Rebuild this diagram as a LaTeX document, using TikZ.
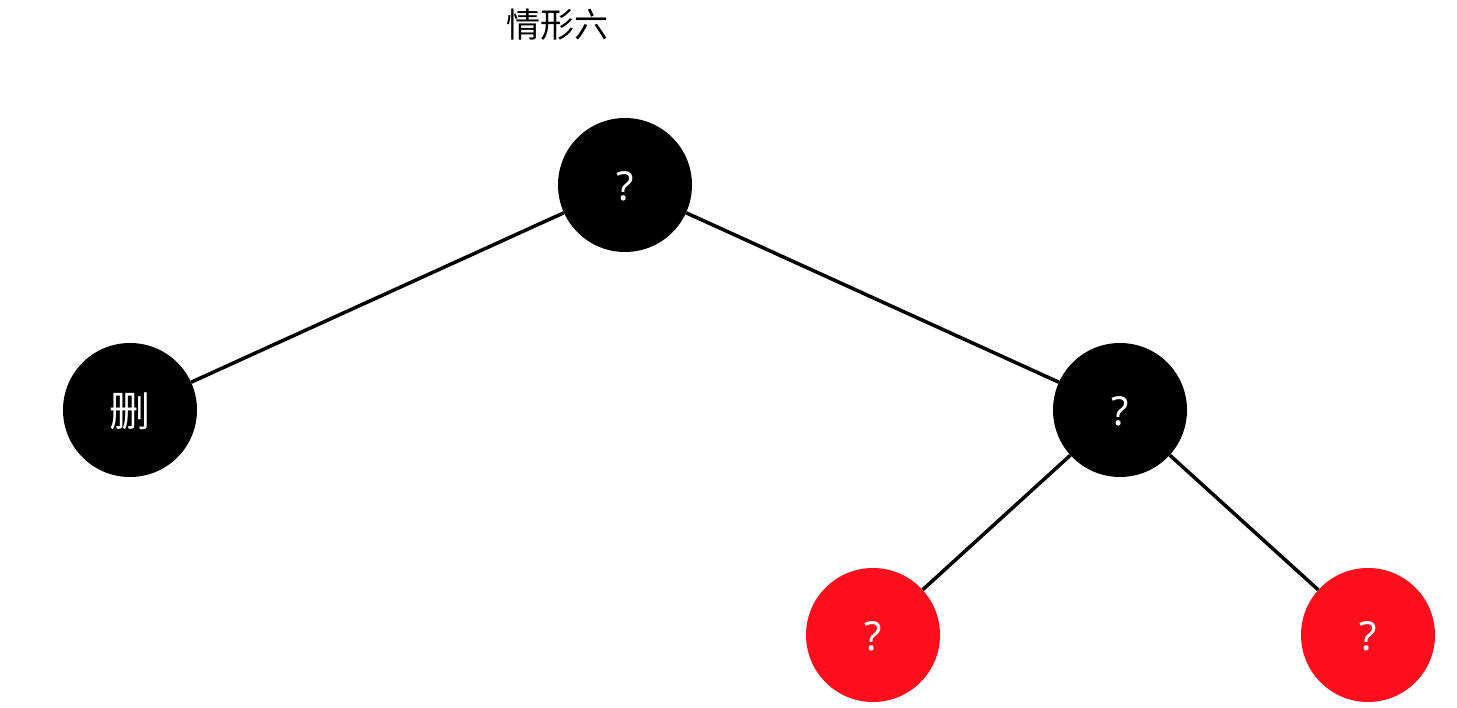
\documentclass[tikz,border=0pt]{standalone}
\usepackage{fontspec}
\setmainfont{Noto Sans}
\newfontfamily\cjk{Noto Sans CJK SC}
\definecolor{nodered}{RGB}{255,15,30}
\begin{document}
\begin{tikzpicture}[x=1pt,y=-1pt,
  treenode/.style={circle,minimum size=134pt,inner sep=0pt,text=white,font=\fontsize{40}{40}\selectfont,text depth=0pt},
  blacknode/.style={treenode,fill=black},
  rednode/.style={treenode,fill=nodered},
  edge/.style={line width=3.5pt,black}]
  \useasboundingbox (0,0) rectangle (1457,708);
  \node[font=\cjk\fontsize{34}{34}\selectfont] (title) at (557,25) {情形六};
  \node[blacknode] (root) at (625,185) {\raisebox{-2pt}{?}};
  \node[blacknode,font=\cjk\fontsize{41}{41}\selectfont] (del) at (130,410) {删};
  \node[blacknode] (right) at (1120,410) {\raisebox{-2pt}{?}};
  \node[rednode] (rl) at (873,635) {\raisebox{-2pt}{?}};
  \node[rednode] (rr) at (1368,635) {\raisebox{-2pt}{?}};
  \draw[edge] (root) -- (del);
  \draw[edge] (root) -- (right);
  \draw[edge] (right) -- (rl);
  \draw[edge] (right) -- (rr);
\end{tikzpicture}
\end{document}
